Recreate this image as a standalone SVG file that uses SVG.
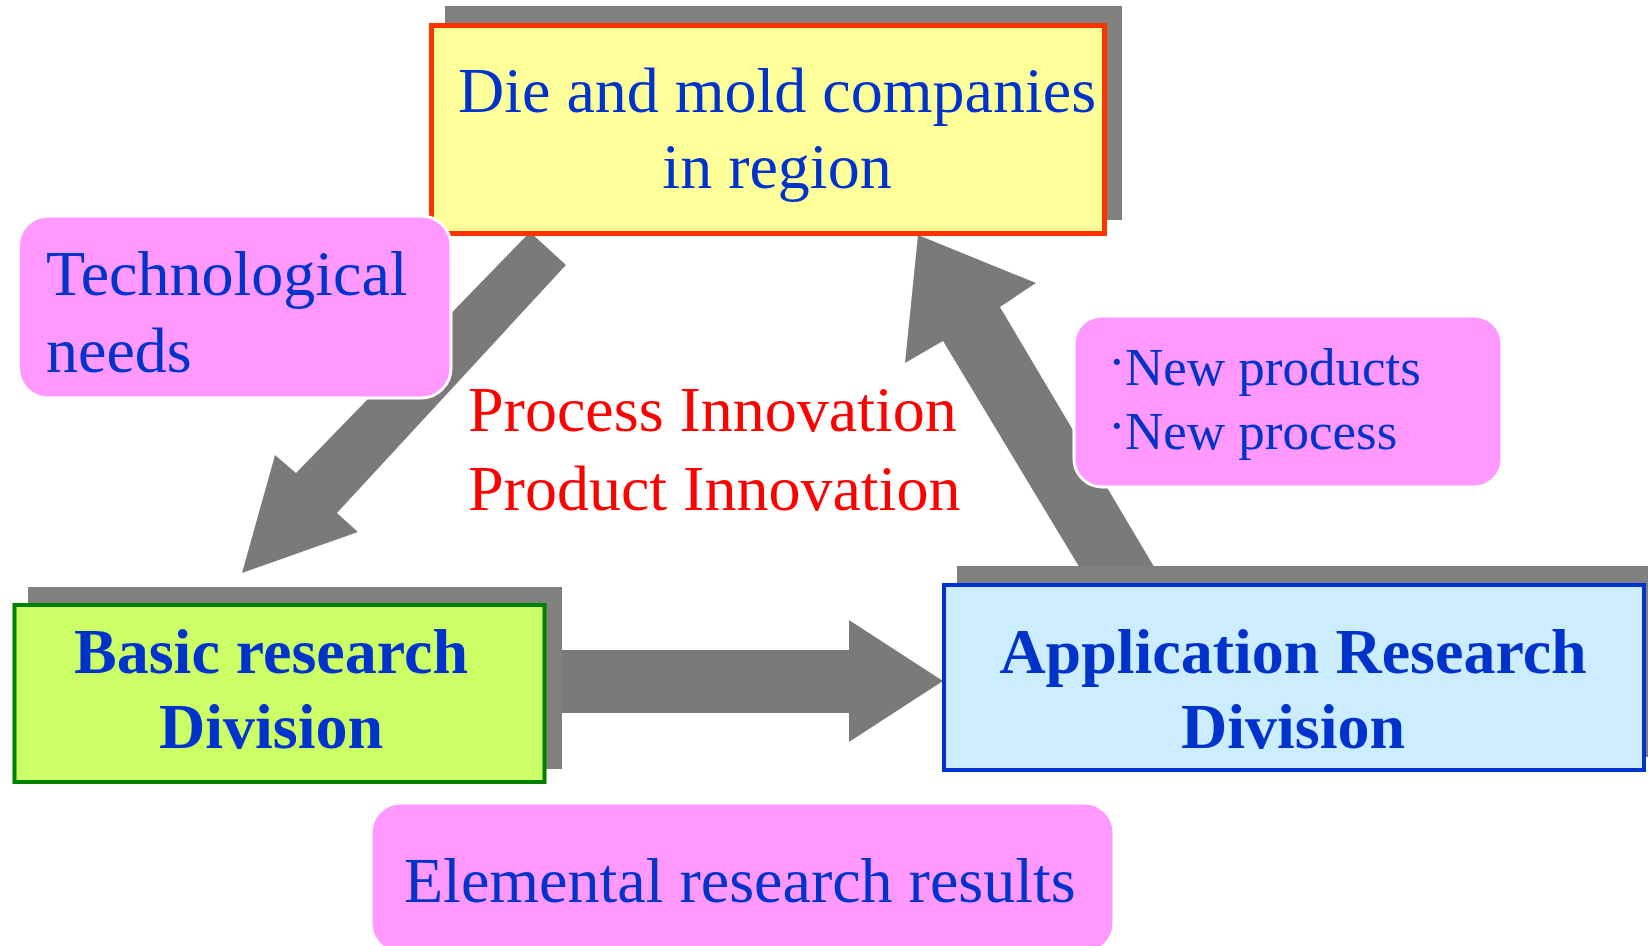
<svg xmlns="http://www.w3.org/2000/svg" width="1648" height="946" viewBox="0 0 1648 946">
<style>
.t{font-family:"Liberation Serif","Times New Roman",serif;fill:#0033CC;font-size:64px}
.s{font-size:53px}
.b{font-weight:bold}
.red{font-family:"Liberation Serif","Times New Roman",serif;fill:#FF0000;font-size:64px}
.sh{fill:#808080}
.arr{fill:#7A7A7A}
.call{fill:#FF99FF;stroke:#FFFFFF;stroke-width:3}
</style>
<rect width="1648" height="946" fill="#FFFFFF"/>
<g id="connectors">
<polygon class="arr" points="530,232 566,265 337,513 358,532 242,573 275,455 296,473"/>
<polygon class="arr" points="1081,570 943,341 905,363 918,235 1036,283 1000,307 1156,570"/>
<polygon class="arr" points="547,650 849,650 849,620 943,681 849,742 849,713 547,713"/>
</g>
<g id="node-companies">
<rect class="sh" x="445" y="6" width="677" height="214"/>
<rect x="431.5" y="25.5" width="673" height="208" fill="#FFFF99" stroke="#FF3300" stroke-width="5"/>
<text class="t" x="777" y="112" text-anchor="middle">Die and mold companies</text>
<text class="t" x="777" y="188" text-anchor="middle">in region</text>
</g>
<g id="node-basic">
<rect class="sh" x="28" y="587" width="534" height="182"/>
<rect x="14.5" y="605" width="530" height="177" fill="#CCFF66" stroke="#008000" stroke-width="4"/>
<text class="t b" x="271" y="673" text-anchor="middle">Basic research</text>
<text class="t b" x="271" y="748" text-anchor="middle">Division</text>
</g>
<g id="node-application">
<rect class="sh" x="957" y="566" width="691" height="191"/>
<rect x="944" y="585" width="700" height="185" fill="#CCECFF" stroke="#0033CC" stroke-width="4"/>
<text class="t b" x="1293" y="673" text-anchor="middle">Application Research</text>
<text class="t b" x="1293" y="748" text-anchor="middle">Division</text>
</g>
<g id="label-needs">
<rect class="call" x="18.5" y="216" width="432.5" height="182" rx="30"/>
<text class="t" x="46" y="295">Technological</text>
<text class="t" x="46" y="372">needs</text>
</g>
<g id="label-new">
<rect class="call" x="1074" y="316" width="428" height="171" rx="28"/>
<text class="t s" x="1108" y="385"><tspan dy="-6">·</tspan><tspan dy="6" x="1125">New products</tspan></text>
<text class="t s" x="1108" y="449"><tspan dy="-6">·</tspan><tspan dy="6" x="1125">New process</tspan></text>
</g>
<g id="label-elemental">
<rect class="call" x="371" y="803" width="743" height="150" rx="30"/>
<text class="t" x="404" y="902">Elemental research results</text>
</g>
<g id="label-innovation">
<text class="red" x="468" y="431">Process Innovation</text>
<text class="red" x="468" y="510">Product Innovation</text>
</g>
</svg>
